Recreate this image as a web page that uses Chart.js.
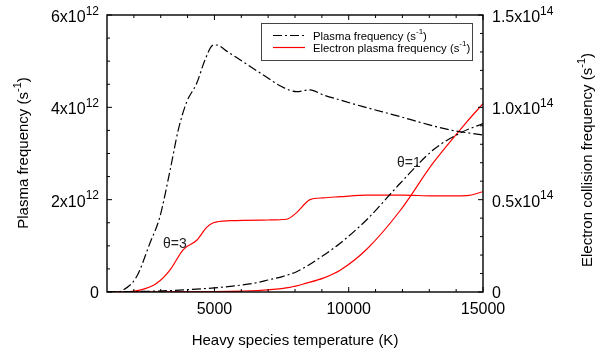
<!DOCTYPE html>
<html>
<head>
<meta charset="utf-8">
<script src="https://cdn.jsdelivr.net/npm/chart.js@4.4.0/dist/chart.umd.min.js"></script>
<style>
  html, body { margin: 0; padding: 0; background: #fff; }
</style>
</head>
<body>
<canvas id="graphique-plasma" width="595" height="353"></canvas>
<script>
// donnees (temperature en K)
const tempPlasma3 = [1000, 1360, 1600, 2100, 2600, 2970, 3350, 3650, 3970, 4340, 4650, 4960, 5080, 5500, 5950, 6820, 7500, 8060, 8560, 9050, 9680, 10500, 11910, 13000, 13770, 15000];
const plasma3 = [0, 0, 0.04, 0.33, 1.06, 1.63, 2.64, 3.5, 4.12, 4.52, 5.03, 5.35, 5.35, 5.2, 5.03, 4.7, 4.45, 4.34, 4.38, 4.27, 4.16, 4.02, 3.8, 3.62, 3.51, 3.4]; // x10^12

const tempPlasma1 = [1000, 2850, 4000, 5000, 6000, 6570, 7000, 7560, 8060, 8500, 9050, 9670, 10660, 11910, 13150, 14140, 15000];
const plasma1 = [0, 0.02, 0.05, 0.09, 0.15, 0.2, 0.26, 0.34, 0.44, 0.58, 0.79, 1.05, 1.56, 2.35, 3.08, 3.44, 3.65]; // x10^12

const tempElec3 = [1000, 1600, 2230, 2850, 3350, 3840, 4340, 4710, 4960, 5580, 7000, 7690, 8060, 8560, 9050, 9680, 10660, 12000, 13150, 14400, 15000];
const elec3 = [0, 0, 0.01, 0.047, 0.12, 0.23, 0.28, 0.35, 0.375, 0.386, 0.39, 0.394, 0.43, 0.5, 0.51, 0.516, 0.525, 0.525, 0.52, 0.522, 0.543]; // x10^14

const tempElec1 = [1000, 5000, 6000, 7000, 7810, 8430, 9050, 9680, 10660, 11910, 13150, 14390, 15000];
const elec1 = [0, 0.002, 0.005, 0.012, 0.025, 0.048, 0.075, 0.118, 0.23, 0.44, 0.7, 0.92, 1.02]; // x10^14

// graduations
const xTicks = [5000, 10000, 15000];
const xMinor = [2000, 3000, 4000, 6000, 7000, 8000, 9000, 11000, 12000, 13000, 14000];
const yTicksGauche = [0, 2, 4, 6];
const yLabelsGauche = [["0", ""], ["2x10", "12"], ["4x10", "12"], ["6x10", "12"]];
const yMinorGauche = [0.5, 1, 1.5, 2.5, 3, 3.5, 4.5, 5, 5.5];
const yTicksDroite = [0, 0.5, 1.0, 1.5];
const yLabelsDroite = [["0", ""], ["0.5x10", "14"], ["1.0x10", "14"], ["1.5x10", "14"]];
const yMinorDroite = [0.1, 0.2, 0.3, 0.4, 0.6, 0.7, 0.8, 0.9, 1.1, 1.2, 1.3, 1.4];

const police = '"Liberation Sans", Arial, sans-serif';

function points(xs, ys) {
  return xs.map((x, i) => ({ x: x, y: ys[i] }));
}

// ecrit un texte avec exposant (morceaux = [[texte, exposant?], ...])
function ecrire(ctx, morceaux, x, y, align, angle, taille) {
  const tSup = Math.round(taille * 0.72);
  let w = 0;
  for (const [t, sup] of morceaux) {
    ctx.font = (sup ? tSup : taille) + "px " + police;
    w += ctx.measureText(t).width;
  }
  ctx.save();
  ctx.translate(x, y);
  ctx.rotate(angle);
  ctx.textAlign = "left";
  ctx.textBaseline = "alphabetic";
  let cx = align === "right" ? -w : align === "center" ? -w / 2 : 0;
  for (const [t, sup] of morceaux) {
    ctx.font = (sup ? tSup : taille) + "px " + police;
    ctx.fillText(t, cx, sup ? -taille * 0.45 : 0);
    cx += ctx.measureText(t).width;
  }
  ctx.restore();
}

const cadre = {
  id: "cadre",
  afterDatasetsDraw(chart) {
    const ctx = chart.ctx;
    const a = chart.chartArea;
    const sx = chart.scales.x, sy = chart.scales.y, sy2 = chart.scales.y2;
    ctx.save();
    ctx.strokeStyle = "#000";
    ctx.fillStyle = "#000";
    ctx.lineWidth = 1.4;
    ctx.strokeRect(a.left, a.top, a.right - a.left, a.bottom - a.top);
    ctx.lineWidth = 1;
    function trait(x1, y1, x2, y2) {
      ctx.beginPath();
      ctx.moveTo(x1, y1);
      ctx.lineTo(x2, y2);
      ctx.stroke();
    }
    // traits vers l'interieur du cadre
    for (const v of xMinor) {
      const px = sx.getPixelForValue(v);
      trait(px, a.bottom, px, a.bottom - 3);
      trait(px, a.top, px, a.top + 3);
    }
    for (const v of xTicks) {
      const px = sx.getPixelForValue(v);
      trait(px, a.bottom, px, a.bottom - 5);
      trait(px, a.top, px, a.top + 5);
    }
    for (const v of yMinorGauche) {
      const py = sy.getPixelForValue(v);
      trait(a.left, py, a.left + 3, py);
    }
    for (const v of yTicksGauche) {
      const py = sy.getPixelForValue(v);
      trait(a.left, py, a.left + 5, py);
    }
    for (const v of yMinorDroite) {
      const py = sy2.getPixelForValue(v);
      trait(a.right, py, a.right - 3, py);
    }
    for (const v of yTicksDroite) {
      const py = sy2.getPixelForValue(v);
      trait(a.right, py, a.right - 5, py);
    }

    // etiquettes des axes y
    yTicksGauche.forEach((v, i) => {
      const py = sy.getPixelForValue(v);
      const lab = yLabelsGauche[i];
      const dy = lab[1] ? 7 : 5.7;
      ecrire(ctx, [[lab[0], false], [lab[1], true]], a.left - 8, py + dy, "right", 0, 16);
    });
    yTicksDroite.forEach((v, i) => {
      const py = sy2.getPixelForValue(v);
      const lab = yLabelsDroite[i];
      const dy = lab[1] ? 7 : 5.7;
      ecrire(ctx, [[lab[0], false], [lab[1], true]], a.right + 9, py + dy, "left", 0, 16);
    });

    // titres des axes y
    ecrire(ctx, [["Plasma frequency (s", false], ["-1", true], [")", false]], 28, 153, "center", -Math.PI / 2, 15);
    ecrire(ctx, [["Electron collision frequency (s", false], ["-1", true], [")", false]], 592, 160, "center", -Math.PI / 2, 15);

    // legende
    ctx.fillStyle = "#fff";
    ctx.fillRect(261, 23, 212, 37);
    ctx.strokeStyle = "#444";
    ctx.lineWidth = 1;
    ctx.strokeRect(261.5, 23.5, 211, 37);
    ctx.lineWidth = 1.2;
    ctx.strokeStyle = "#000";
    ctx.setLineDash([9, 3, 2, 3]);
    trait(273, 35.5, 305, 35.5);
    ctx.setLineDash([]);
    ctx.strokeStyle = "#ff0000";
    trait(273, 47.5, 305, 47.5);
    ctx.fillStyle = "#000";
    ecrire(ctx, [["Plasma frequency (s", false], ["-1", true], [")", false]], 313, 39.5, "left", 0, 11.3);
    ecrire(ctx, [["Electron plasma frequency (s", false], ["-1", true], [")", false]], 313, 51.5, "left", 0, 11.3);

    // etiquettes theta
    ctx.fillStyle = "#222";
    ecrire(ctx, [["\u03b8=3", false]], 163, 248, "left", 0, 14);
    ecrire(ctx, [["\u03b8=1", false]], 397, 167, "left", 0, 14);
    ctx.restore();
  }
};

const styleNoir = {
  borderColor: "#000",
  borderWidth: 1.2,
  borderDash: [9, 3, 2, 3],
  pointRadius: 0,
  cubicInterpolationMode: "monotone",
  yAxisID: "y"
};
const styleRouge = {
  borderColor: "#ff0000",
  borderWidth: 1.2,
  pointRadius: 0,
  cubicInterpolationMode: "monotone",
  yAxisID: "y2"
};

const config = {
  type: "line",
  data: {
    datasets: [
      Object.assign({ label: "Plasma frequency θ=3", data: points(tempPlasma3, plasma3) }, styleNoir),
      Object.assign({ label: "Plasma frequency θ=1", data: points(tempPlasma1, plasma1) }, styleNoir),
      Object.assign({ label: "Electron plasma frequency θ=3", data: points(tempElec3, elec3) }, styleRouge),
      Object.assign({ label: "Electron plasma frequency θ=1", data: points(tempElec1, elec1) }, styleRouge)
    ]
  },
  options: {
    responsive: false,
    animation: false,
    layout: { padding: { left: 107, right: 112, top: 15, bottom: 0 } },
    plugins: { legend: { display: false }, tooltip: { enabled: false } },
    scales: {
      x: {
        type: "linear",
        min: 1000,
        max: 15000,
        grid: { display: false, drawTicks: false },
        border: { display: false },
        afterBuildTicks: (scale) => { scale.ticks = xTicks.map((v) => ({ value: v })); },
        afterFit: (scale) => { scale.height = 61; },
        ticks: {
          color: "#000",
          padding: 8,
          maxRotation: 0,
          font: { family: police, size: 16 },
          callback: (v) => String(v)
        },
        title: {
          display: true,
          text: "Heavy species temperature (K)",
          color: "#000",
          font: { family: police, size: 15 },
          padding: { top: 0, bottom: 3 }
        }
      },
      y: { display: false, min: 0, max: 6 },
      y2: { display: false, min: 0, max: 1.5 }
    }
  },
  plugins: [cadre]
};

new Chart(document.querySelector("#graphique-plasma"), config);
</script>
</body>
</html>
